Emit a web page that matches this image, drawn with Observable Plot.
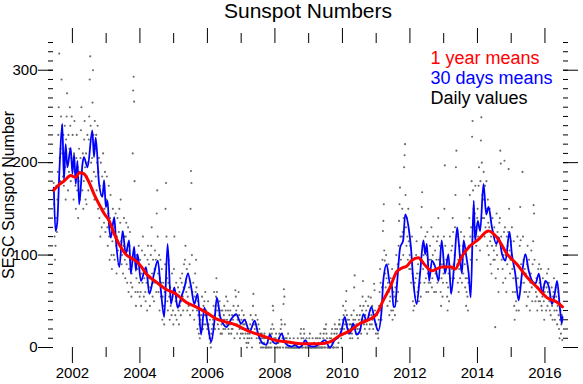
<!DOCTYPE html>
<html><head><meta charset="utf-8">
<script src="https://cdn.jsdelivr.net/npm/d3@7"></script>
<script src="https://cdn.jsdelivr.net/npm/@observablehq/plot@0.6"></script>
<style>body{margin:0;background:#fff;} #chart svg{display:block;}</style>
</head><body><div id="chart"></div>
<script>
// ---- Labels ----
const titleText = "Sunspot Numbers";
const yLabelText = "SESC Sunspot Number";
const legendLabels = ["1 year means", "30 days means", "Daily values"];
const legendColors = ["#ff0000", "#0000ff", "#000000"];
const xMajorTicks = [2002, 2004, 2006, 2008, 2010, 2012, 2014, 2016];
const xMinorTicks = [2003, 2005, 2007, 2009, 2011, 2013, 2015];
const yMajorTicks = [0, 100, 200, 300];
const yMinorTicks = [0,10,20,30,40,50,60,70,80,90,100,110,120,130,140,150,160,170,180,190,200,210,220,230,240,250,260,270,280,290,300,310,320,330];

// ---- 1 year means ----
const redDates = [2001.44,2001.6,2001.75,2001.95,2002.1,2002.2,2002.34,2002.49,2002.64,2002.79,2002.94,2003.09,2003.24,2003.38,2003.58,2003.78,2003.93,2004.03,2004.18,2004.48,2004.77,2005.07,2005.37,2005.66,2005.96,2006.26,2006.5,2006.8,2007.2,2007.6,2007.99,2008.39,2008.78,2009.08,2009.33,2009.63,2009.92,2010.22,2010.52,2010.72,2011.01,2011.21,2011.41,2011.61,2011.76,2011.9,2012.05,2012.25,2012.45,2012.65,2012.94,2013.24,2013.34,2013.53,2013.73,2014.03,2014.33,2014.58,2014.88,2015.17,2015.47,2015.77,2016.06,2016.36,2016.52];
const redValues = [170,176,180,186,184,189,188,179,166,155,145,137,123,112,101,96,92,88,80,71,63,58,49,44,38,31,28,25,18,13,8,6,4,4,4,6,13,18,26,29,36,51,65,82,86,88,94,97,89,83,87,87,85,98,108,117,126,119,101,90,76,65,54,49,44];

// ---- 30 days means ----
const blueDates = [2001.45,2001.5,2001.55,2001.62,2001.7,2001.75,2001.8,2001.85,2001.95,2002.0,2002.05,2002.1,2002.15,2002.2,2002.3,2002.34,2002.45,2002.59,2002.64,2002.69,2002.79,2002.89,2002.94,2002.99,2003.04,2003.09,2003.14,2003.24,2003.29,2003.39,2003.49,2003.58,2003.68,2003.73,2003.83,2003.88,2003.93,2004.03,2004.18,2004.28,2004.42,2004.53,2004.62,2004.72,2004.82,2004.92,2005.02,2005.12,2005.22,2005.32,2005.42,2005.52,2005.61,2005.71,2005.81,2005.91,2006.01,2006.11,2006.21,2006.28,2006.38,2006.48,2006.56,2006.71,2006.85,2007.0,2007.1,2007.25,2007.4,2007.5,2007.65,2007.75,2007.85,2007.94,2008.04,2008.2,2008.3,2008.4,2008.5,2008.6,2008.7,2008.8,2008.9,2009.0,2009.15,2009.33,2009.48,2009.63,2009.77,2009.88,2009.97,2010.07,2010.15,2010.22,2010.32,2010.42,2010.52,2010.62,2010.72,2010.86,2010.96,2011.06,2011.16,2011.21,2011.31,2011.41,2011.46,2011.51,2011.56,2011.61,2011.71,2011.8,2011.86,2011.96,2012.03,2012.1,2012.2,2012.3,2012.4,2012.45,2012.5,2012.57,2012.65,2012.75,2012.85,2012.94,2013.04,2013.14,2013.22,2013.32,2013.4,2013.44,2013.54,2013.59,2013.66,2013.74,2013.8,2013.89,2013.93,2014.01,2014.08,2014.18,2014.26,2014.33,2014.43,2014.56,2014.63,2014.73,2014.83,2014.95,2015.02,2015.12,2015.22,2015.32,2015.42,2015.52,2015.62,2015.72,2015.82,2015.92,2016.01,2016.12,2016.21,2016.29,2016.36,2016.44,2016.5,2016.52];
const blueValues = [173,126,135,195,242,181,220,195,216,188,209,177,202,155,199,206,195,235,206,227,177,163,181,152,159,130,119,141,116,87,126,101,116,80,109,83,101,72,87,58,80,94,62,33,112,47,65,43,54,65,80,65,47,58,14,43,25,6,29,54,33,25,22,31,36,26,30,17,29,15,4,3,14,6,4,15,5,2,1,3,0,2,8,2,1,4,8,0,8,11,18,33,20,15,26,14,18,36,29,44,29,18,40,72,90,69,69,44,44,65,108,116,144,130,108,72,47,80,116,101,112,72,94,87,72,116,80,101,58,94,130,116,80,116,101,80,54,159,116,137,126,177,144,152,130,112,119,101,94,125,101,80,51,80,101,83,72,69,80,58,72,65,47,58,72,44,26,33];

// ---- Daily values, one every 5 days ----
const daily2001 = [178,155,120,95, 110,140,175,125,160,190, 230,260,318,205,180,215, 250,290,240,210,185,230, 175,210,240,195,160,225, 250,275,200,170,230,190, 215,260,240,180,205,250,195];
const daily2002 = [230,185,160,210,245,190, 175,150,205,230,170,195, 140,180,215,190,160,205, 235,260,190,170,210,150, 180,225,245,195,160,210, 155,185,230,200,170,225, 250,290,315,240,200,180, 205,265,300,230,190,160,245, 215,185,230,170,200,240, 150,190,205,140,175,120, 200,165,130,185,150,210, 170,135,150,190,125,160];
const daily2003 = [160,185,130,110,145,175, 120,95,140,165,130,100, 85,115,150,135,100,125, 95,130,145,110,80,120, 140,105,90,125,150,110, 135,160,115,90,100,125, 80,110,140,120,95,75, 120,135,90,70,105,130, 60,85,110,125,95,70, 55,80,65,210,278,293, 266,180,95,60,45,75, 100,85,60,95,110,70,55];
const daily2004 = [95,60,45,80,105,70, 120,85,55,75,100,60, 50,85,70,40,95,110, 60,90,75,45,65,100, 110,130,80,55,95,70, 50,85,105,70,95,60, 145,170,120,80,60,100, 40,75,95,55,70,85, 30,55,70,45,25,60, 90,150,178,120,75,50, 40,70,95,55,30,65, 45,60,35,80,55,40,25];
const daily2005 = [85,120,60,35,50,70, 30,55,45,65,40,25, 60,45,75,35,50,70, 80,55,40,65,90,50, 95,110,70,60,85,40, 55,80,45,65,90,35, 150,191,178,100,60,40, 70,45,30,55,80,60, 95,65,40,20,50,35, 15,25,10,30,20,35, 40,55,30,20,45,25, 50,35,60,25,40,30,20];
const daily2006 = [35,50,25,15,10,30, 5,0,15,20,10,25, 30,45,60,35,20,40, 55,75,60,40,25,45, 20,35,50,30,15,40, 25,15,40,30,20,35, 45,30,20,40,55,25, 30,50,40,20,15,35, 25,40,30,15,20,35, 20,30,45,25,10,35, 62,55,40,25,15,30, 45,60,35,20,10,25,15];
const daily2007 = [30,40,20,15,25,35, 10,25,30,15,20,5, 0,10,15,5,20,10, 15,25,35,20,10,0, 30,45,58,25,15,20, 25,35,15,10,20,30, 15,25,10,20,5,15, 0,10,15,0,5,10, 0,5,15,10,0,0, 0,0,10,5,0,0, 10,15,0,5,20,0, 15,25,45,40,20,10,0];
const daily2008 = [0,10,15,5,0,0, 0,5,10,15,0,0, 20,30,25,15,10,0, 47,63,55,25,10,0, 0,10,5,0,15,0, 0,0,10,5,0,0, 0,5,0,0,10,0, 0,0,0,0,0,0, 0,10,5,0,0,0, 0,15,20,10,0,0, 0,10,20,15,5,0, 0,0,10,5,0,0,0];
const daily2009 = [0,10,15,0,0,0, 0,0,10,0,0,5, 0,0,0,10,0,0, 0,10,0,5,0,0, 10,15,0,0,5,0, 0,10,15,20,0,0, 20,25,15,10,0,0, 0,0,0,10,0,0, 10,15,20,5,0,0, 0,15,25,20,10,0, 15,20,10,0,5,25, 30,25,20,15,10,0,20];
const daily2010 = [30,45,35,20,15,25, 40,50,61,35,25,30, 20,15,30,25,10,20, 25,35,15,10,20,30, 40,65,78,30,20,15, 25,35,20,10,15,30, 20,35,45,25,15,30, 40,55,72,45,25,30, 20,35,50,40,25,15, 30,45,55,35,20,25, 40,54,35,25,45,30, 20,35,69,62,40,25,15];
const daily2011 = [25,35,20,15,10,30, 45,60,85,70,40,30, 65,95,126,137,155,105, 94,80,65,100,75,60, 45,70,90,60,35,50, 55,75,40,65,85,30, 40,60,75,55,35,65, 80,100,70,50,90,60, 110,137,155,173,120,95, 85,120,150,125,100,140, 195,208,220,165,130,110, 140,120,95,150,115,85,100];
const daily2012 = [110,85,70,95,120,80, 50,40,65,45,70,55, 75,100,115,80,60,90, 65,50,80,95,70,55, 130,152,168,110,85,100, 90,70,105,120,75,60, 100,125,80,60,70,95, 85,110,70,95,130,65, 75,100,120,90,60,85, 105,80,60,95,115,70, 120,140,95,75,110,90, 60,45,75,90,55,70,80];
const daily2013 = [120,150,197,110,85,95, 70,55,40,65,80,50, 90,120,75,60,105,85, 110,140,125,90,75,100, 130,165,195,213,120,90, 70,95,60,85,110,75, 100,125,85,70,95,110, 80,105,120,90,65,75, 45,60,75,55,40,70, 110,140,165,120,95,130, 180,228,245,170,150,135, 120,145,175,130,110,95,140];
const daily2014 = [150,120,175,195,130,105, 180,224,249,200,165,140, 160,190,140,120,175,130, 150,180,125,110,160,135, 100,130,150,115,90,120, 80,110,140,125,95,105, 130,95,22,75,110,145, 100,125,85,60,115,135, 140,213,199,120,95,110, 85,70,100,125,202,130, 75,100,60,120,90,110, 125,193,150,105,80,95,115];
const daily2015 = [100,130,85,60,75,115, 45,30,60,75,50,40, 90,120,75,55,40,65, 110,152,116,90,70,80, 190,120,95,70,60,85, 100,80,60,45,90,110, 55,75,95,60,40,70, 80,105,65,50,90,115, 154,145,95,70,50,60, 75,55,40,65,85,50, 90,70,50,60,85,45, 40,55,75,65,50,30,60];
const daily2016 = [70,55,40,65,80,45, 60,85,70,50,40,55, 35,50,65,45,30,55, 60,75,40,30,50,65, 55,40,25,45,60,35, 20,10,30,40,15,25, 35,8];

const dailyYears = [
  {year: 2001, startDay: 163, values: daily2001},
  {year: 2002, startDay: 3, values: daily2002},
  {year: 2003, startDay: 3, values: daily2003},
  {year: 2004, startDay: 3, values: daily2004},
  {year: 2005, startDay: 3, values: daily2005},
  {year: 2006, startDay: 3, values: daily2006},
  {year: 2007, startDay: 3, values: daily2007},
  {year: 2008, startDay: 3, values: daily2008},
  {year: 2009, startDay: 3, values: daily2009},
  {year: 2010, startDay: 3, values: daily2010},
  {year: 2011, startDay: 3, values: daily2011},
  {year: 2012, startDay: 3, values: daily2012},
  {year: 2013, startDay: 3, values: daily2013},
  {year: 2014, startDay: 3, values: daily2014},
  {year: 2015, startDay: 3, values: daily2015},
  {year: 2016, startDay: 3, values: daily2016}
];

const dailyRows = dailyYears.flatMap(({year, startDay, values}) =>
  values.map((v, i) => ({date: year + (startDay + 5 * i - 0.5) / 365.25, value: v})));
const blueRows = blueDates.map((d, i) => ({date: d, value: blueValues[i]}));
const redRows = redDates.map((d, i) => ({date: d, value: redValues[i]}));

const font = "'Liberation Sans', Arial, Helvetica, sans-serif";
const blank = () => "";

const chart = Plot.plot({
  width: 583,
  height: 384,
  marginLeft: 53,
  marginRight: 21,
  marginTop: 42,
  marginBottom: 37,
  x: {domain: [2001.44, 2016.52]},
  y: {domain: [0, 330]},
  style: {fontFamily: font, fontSize: "15px", background: "#ffffff", color: "#000000", overflow: "visible"},
  marks: [
    Plot.dot(dailyRows, {x: "date", y: "value", r: 1.05, fill: "#6a6a6a", stroke: null}),
    Plot.line(blueRows, {x: "date", y: "value", stroke: "#0000ff", strokeWidth: 1.8, curve: "monotone-x"}),
    Plot.line(redRows, {x: "date", y: "value", stroke: "#ff0000", strokeWidth: 3, curve: "monotone-x"}),
    Plot.axisX({anchor: "bottom", ticks: xMajorTicks, tickSize: 16, tickPadding: 4, tickFormat: d => String(d), label: null, fontSize: 15}),
    Plot.axisX({anchor: "bottom", ticks: xMinorTicks, tickSize: 10, tickFormat: blank, label: null}),
    Plot.axisX({anchor: "top", ticks: xMajorTicks, tickSize: 15, tickFormat: blank, label: null}),
    Plot.axisX({anchor: "top", ticks: xMinorTicks, tickSize: 10, tickFormat: blank, label: null}),
    Plot.axisY({anchor: "left", ticks: yMajorTicks, tickSize: 15, tickPadding: 1, label: null, fontSize: 15}),
    Plot.axisY({anchor: "left", ticks: yMinorTicks, tickSize: 5, tickFormat: blank, label: null}),
    Plot.axisY({anchor: "right", ticks: yMajorTicks, tickSize: 15, tickFormat: blank, label: null}),
    Plot.axisY({anchor: "right", ticks: yMinorTicks, tickSize: 5, tickFormat: blank, label: null}),
    Plot.text([titleText], {frameAnchor: "top", lineAnchor: "bottom", dy: -25, fontSize: 21, fill: "#000"}),
    Plot.text([yLabelText], {frameAnchor: "left", rotate: -90, textAnchor: "middle", lineAnchor: "bottom", dx: -40, fontSize: 16, fill: "#000"}),
    Plot.text([legendLabels[0]], {frameAnchor: "top-right", textAnchor: "start", lineAnchor: "bottom", dx: -132, dy: 21, fontSize: 18, fill: legendColors[0]}),
    Plot.text([legendLabels[1]], {frameAnchor: "top-right", textAnchor: "start", lineAnchor: "bottom", dx: -132, dy: 41, fontSize: 18, fill: legendColors[1]}),
    Plot.text([legendLabels[2]], {frameAnchor: "top-right", textAnchor: "start", lineAnchor: "bottom", dx: -132, dy: 61, fontSize: 18, fill: legendColors[2]})
  ]
});
document.getElementById("chart").appendChild(chart);
</script>
</body></html>
